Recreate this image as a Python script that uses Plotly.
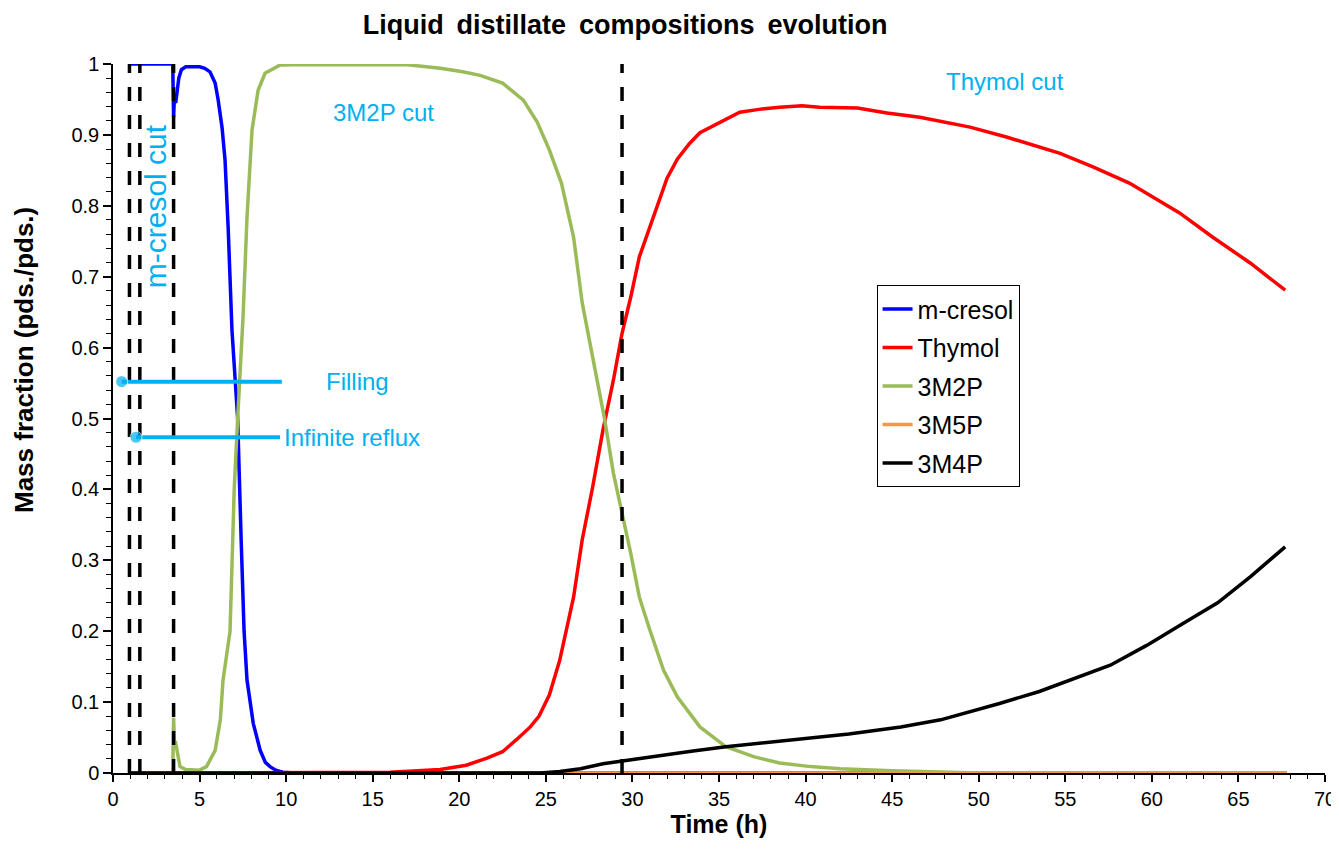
import plotly.graph_objects as go

# ---------------- data ----------------
t_mcresol = [0.9, 3.45, 3.5, 3.55, 3.62, 3.7, 3.8, 3.95, 4.2, 5.0, 5.3, 5.6, 5.9, 6.07, 6.3, 6.47,
             6.65, 6.87, 7.05, 7.2, 7.4, 7.57, 7.74, 8.1, 8.5, 8.8, 9.07, 9.4, 9.8, 10.5, 67.8]
y_mcresol = [1.0, 1.0, 0.925, 0.955, 0.945, 0.96, 0.98, 0.992, 0.996, 0.996, 0.994, 0.989, 0.973, 0.95, 0.91, 0.865,
             0.77, 0.625, 0.55, 0.5, 0.33, 0.2, 0.131, 0.07, 0.032, 0.015, 0.009, 0.004, 0.001, 0.0, 0.0]

t_thymol = [0.9, 15.5, 16.0, 18.9, 20.4, 21.6, 22.5, 23.3, 24.1, 24.6, 25.2, 25.8, 26.6, 27.1, 27.7, 28.3,
            28.9, 29.4, 29.9, 30.4, 31.4, 32.0, 32.6, 33.3, 33.9, 35.1, 36.2, 37.3, 38.5, 39.8, 40.8, 43.0,
            44.7, 46.6, 48.3, 49.5, 51.6, 54.7, 56.6, 58.7, 61.6, 63.5, 65.7, 67.7]
y_thymol = [0.0, 0.0, 0.001, 0.005, 0.011, 0.021, 0.03, 0.047, 0.065, 0.08, 0.11, 0.159, 0.248, 0.329, 0.403, 0.484,
            0.554, 0.62, 0.671, 0.728, 0.798, 0.839, 0.866, 0.888, 0.903, 0.918, 0.932, 0.936, 0.939, 0.941, 0.939, 0.938,
            0.931, 0.925, 0.917, 0.911, 0.897, 0.874, 0.855, 0.832, 0.79, 0.756, 0.719, 0.681]

t_3m2p = [0.9, 3.45, 3.5, 3.55, 3.6, 3.7, 3.87, 4.2, 5.0, 5.4, 5.9, 6.2, 6.35, 6.76, 7.0, 7.2, 7.51, 7.74,
          8.03, 8.38, 8.78, 9.65, 10.5, 17.0, 18.9, 20.2, 21.2, 22.5, 23.7, 24.5, 25.2, 25.9, 26.6, 27.1,
          27.8, 28.4, 28.9, 29.4, 29.9, 30.4, 31.0, 31.8, 32.6, 33.9, 35.4, 37.0, 38.5, 40.3, 42.0, 45.0,
          48.0, 50.0, 67.8]
y_3m2p = [0.0, 0.0, 0.078, 0.04, 0.045, 0.03, 0.009, 0.005, 0.004, 0.009, 0.032, 0.075, 0.13, 0.2, 0.4, 0.5, 0.643, 0.784,
          0.907, 0.963, 0.987, 0.9986, 0.999, 0.999, 0.994, 0.989, 0.984, 0.973, 0.949, 0.918, 0.879, 0.832, 0.756, 0.663,
          0.573, 0.498, 0.423, 0.367, 0.31, 0.248, 0.202, 0.145, 0.107, 0.065, 0.037, 0.023, 0.014, 0.009, 0.006, 0.003,
          0.001, 0.0, 0.0]

t_3m5p = [0.9, 25.0, 67.8]
y_3m5p = [0.0, 0.0, 0.0]

t_3m4p = [0.9, 24.7, 25.8, 27.0, 28.3, 29.4, 31.0, 31.6, 33.5, 35.4, 37.4, 40.3, 42.5, 45.5, 47.8, 51.2,
          53.5, 57.6, 59.7, 61.8, 63.8, 65.7, 67.7]
y_3m4p = [0.0, 0.0, 0.002, 0.006, 0.013, 0.017, 0.023, 0.025, 0.031, 0.037, 0.042, 0.049, 0.055, 0.065, 0.075, 0.098,
          0.115, 0.152, 0.18, 0.211, 0.24, 0.277, 0.319]

series_names = ["m-cresol", "Thymol", "3M2P", "3M5P", "3M4P"]
series_colors = ["#0000FF", "#FF0000", "#9BBB59", "#F79646", "#000000"]

cut_times = [0.95, 1.55, 3.5, 29.4]

filling_x = [0.5, 9.75]
filling_y = [0.552, 0.552]
reflux_x = [1.33, 9.65]
reflux_y = [0.4735, 0.4735]

# ---------------- figure ----------------
FONT = "Liberation Sans, Arial, sans-serif"
CUT_BLUE = "#00B0F0"

fig = go.Figure()

data_x = [t_mcresol, t_thymol, t_3m2p, t_3m5p, t_3m4p]
data_y = [y_mcresol, y_thymol, y_3m2p, y_3m5p, y_3m4p]
for name, color, xs, ys in zip(series_names, series_colors, data_x, data_y):
    fig.add_trace(go.Scatter(x=xs, y=ys, mode="lines", name=name, legendgroup=name,
                             line=dict(color=color, width=3.5)))

# dashed cut lines
vx, vy = [], []
for t in cut_times:
    vx += [t, t, None]
    vy += [0, 1, None]
fig.add_trace(go.Scatter(x=vx, y=vy, mode="lines", showlegend=False, hoverinfo="skip",
                         line=dict(color="black", width=3.5, dash="14px,14px")))

# annotation pointer lines
for xs, ys in [(filling_x, filling_y), (reflux_x, reflux_y)]:
    fig.add_trace(go.Scatter(x=xs, y=ys, mode="lines+markers", showlegend=False, hoverinfo="skip",
                             line=dict(color=CUT_BLUE, width=4),
                             marker=dict(color=CUT_BLUE, size=[12, 0])))

ann_font = dict(family=FONT, size=24, color=CUT_BLUE)
annotations = [
    dict(x=14.1, y=0.552, text="Filling", xanchor="center", yanchor="middle"),
    dict(x=9.76, y=0.4735, text="Infinite reflux", xanchor="left", yanchor="middle"),
    dict(x=15.6, y=0.932, text="3M2P cut", xanchor="center", yanchor="middle"),
    dict(x=51.5, y=0.975, text="Thymol cut", xanchor="center", yanchor="middle"),
    dict(x=2.45, y=0.80, text="m-cresol cut", textangle=-90, xanchor="center", yanchor="middle",
         font=dict(family=FONT, size=30, color=CUT_BLUE)),
]
for a in annotations:
    a.update(xref="x", yref="y", showarrow=False)
    a.setdefault("font", ann_font)

annotations.append(dict(xref="paper", yref="paper", x=0, y=0.5825, xshift=-89, showarrow=False,
                        text="<b>Mass fraction (pds./pds.)</b>", textangle=-90,
                        xanchor="center", yanchor="middle",
                        font=dict(family=FONT, size=26, color="black")))

# the page body adds an 8px offset, so the figure is 8px smaller on each axis
fig.update_layout(
    width=1331, height=847,
    paper_bgcolor="white", plot_bgcolor="white",
    margin=dict(l=105, r=14, t=56, b=82, autoexpand=False),
    font=dict(family=FONT, size=20, color="black"),
    title=dict(text="<b>Liquid\u2009 distillate\u2009 compositions\u2009 evolution</b>", x=0.4636, xref="container",
               xanchor="center", y=0.981, yref="container", yanchor="middle", automargin=False,
               font=dict(family=FONT, size=27, color="black")),
    showlegend=True,
    legend=dict(x=0.630, y=0.688, xanchor="left", yanchor="top", bordercolor="black", borderwidth=1,
                bgcolor="white", font=dict(family=FONT, size=25, color="black"),
                traceorder="grouped", tracegroupgap=3),
    annotations=annotations,
)

fig.update_xaxes(range=[0, 70], dtick=5, tick0=0, showgrid=False, zeroline=False, automargin=False,
                 showline=True, linecolor="black", linewidth=1.5,
                 ticks="outside", ticklen=7, tickwidth=1.5, tickcolor="black",
                 minor=dict(dtick=1, ticks="outside", ticklen=4, tickwidth=1, tickcolor="black", showgrid=False),
                 tickfont=dict(family=FONT, size=20, color="black"),
                 title=dict(text="<b>Time (h)</b>", standoff=4, font=dict(family=FONT, size=25, color="black")))
fig.update_yaxes(range=[0, 1], dtick=0.1, tick0=0, showgrid=False, zeroline=False, automargin=False,
                 showline=True, linecolor="black", linewidth=1.5,
                 ticks="outside", ticklen=8, tickwidth=1.5, tickcolor="black",
                 minor=dict(dtick=0.02, ticks="outside", ticklen=5, tickwidth=1, tickcolor="black", showgrid=False),
                 tickfont=dict(family=FONT, size=20, color="black"))

fig.write_html("out.html")
